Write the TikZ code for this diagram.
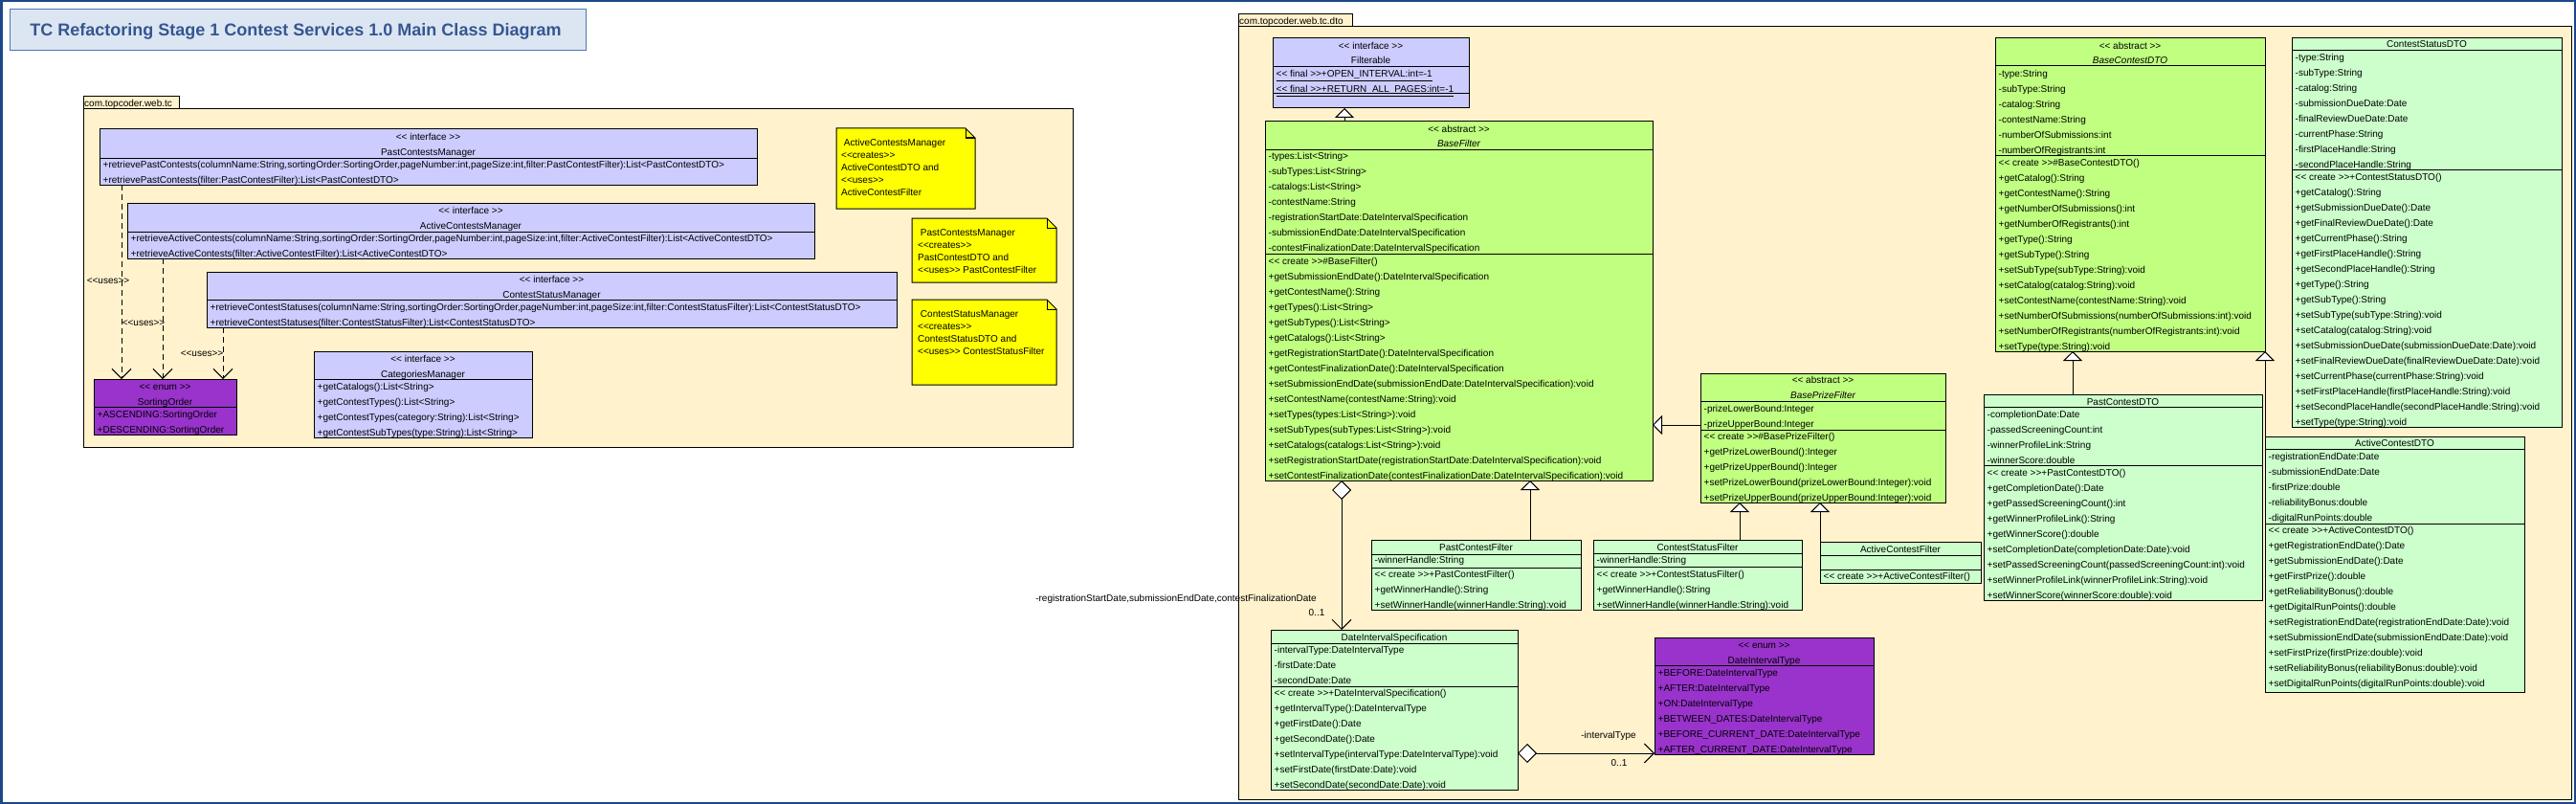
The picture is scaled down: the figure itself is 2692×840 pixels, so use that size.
\documentclass[tikz,border=0pt]{standalone}
\usepackage{fontspec}
\setmainfont{Liberation Sans}[Ligatures=TeXOff]
\usetikzlibrary{arrows.meta}
\definecolor{frameblue}{RGB}{28,72,138}
\definecolor{titlefill}{RGB}{220,230,242}
\definecolor{titleline}{RGB}{79,118,176}
\definecolor{titletext}{RGB}{54,86,145}
\definecolor{pkgfill}{RGB}{255,242,204}
\definecolor{ifcfill}{RGB}{204,204,255}
\definecolor{absfill}{RGB}{192,255,128}
\definecolor{clsfill}{RGB}{204,255,204}
\definecolor{enumfill}{RGB}{153,51,204}
\definecolor{notefill}{RGB}{255,255,0}
\tikzset{
 umlbox/.style={draw=black, line width=1pt, inner sep=0pt, outer sep=0pt, anchor=north west},
 rowtxt/.style={anchor=base west, inner sep=0pt, font=\fontsize{10}{12}\selectfont},
 hdrtxt/.style={anchor=base, inner sep=0pt, font=\fontsize{10}{12}\selectfont},
 divline/.style={line width=1pt},
 genarrow/.style={line width=1pt, -{Triangle[length=10pt,width=20pt,fill=white]}},
 deparrow/.style={line width=1pt, dash pattern=on 6pt off 4pt, -{Straight Barb[length=10pt,width=20pt]}},
 aggarrow/.style={line width=1pt, {Diamond[length=20pt,width=20pt,fill=white]}-{Straight Barb[length=10pt,width=20pt]}},
}
\newcommand\umlcls[6]{\node[umlbox, fill=#6, minimum width={#4-#2}, minimum height={#5-#3}] (#1) at (#2,#3) {};}
\newcommand\hdiv[3]{\draw[divline] (#1,#3) -- (#2,#3);}
\newcommand\rowsgen[5]{\foreach \rtext [count=\ri from 0] in {#5}{\node[rowtxt] (#1\ri) at (#2,{#3+3.5+#4*\ri}) {\rtext};}}
\newcommand\rowsat[4]{\rowsgen{#1}{#2}{#3}{16}{#4}}
\newcommand\hdr[4]{\node[hdrtxt] (#1) at ({#2},{#3+3.5}) {#4};}
\newcommand\umlnote[5]{%
 \node[anchor=north west, inner sep=0pt, outer sep=0pt, minimum width={#4-#2}, minimum height={#5-#3}] (#1) at (#2,#3) {};
 \draw[line width=1pt, fill=notefill] (#1.north west) -- ([xshift=-10pt]#1.north east) -- ([yshift=-10pt]#1.north east) -- (#1.south east) -- (#1.south west) -- cycle;
 \draw[line width=1pt] ([xshift=-10pt]#1.north east) -- ([xshift=-10pt,yshift=-10pt]#1.north east) -- ([yshift=-10pt]#1.north east);}
\begin{document}
\begin{tikzpicture}[x=1pt,y=-1pt]
\useasboundingbox (0,0) rectangle (2692,840);
\fill[white] (0,0) rectangle (2692,840);
\draw[frameblue, line width=2.5pt] (1.25,1.25) rectangle (2690.75,838.75);
% title
\node[umlbox, draw=titleline, fill=titlefill, minimum width=602, minimum height=43] (title) at (10,10) {};
\node[anchor=base, inner sep=0pt, font=\fontsize{18}{20}\selectfont\bfseries, text=titletext] (titletxt) at (309,37.5) {TC Refactoring Stage 1 Contest Services 1.0 Main Class Diagram};
% packages
\node[umlbox, fill=pkgfill, minimum width=100, minimum height=13] (pkgLtab) at (87,101) {};
\node[umlbox, fill=pkgfill, minimum width=1034, minimum height=353] (pkgL) at (87,114) {};
\node[rowtxt] (pkgLname) at (88,111.5) {com.topcoder.web.tc};
\node[umlbox, fill=pkgfill, minimum width=119, minimum height=13] (pkgRtab) at (1294,15) {};
\node[umlbox, fill=pkgfill, minimum width=1393, minimum height=807] (pkgR) at (1294,28) {};
\node[rowtxt] (pkgRname) at (1295,25.5) {com.topcoder.web.tc.dto};
% notes
\umlnote{n1}{874}{134}{1019}{218}
\rowsgen{n1t}{879}{149}{13}{\ ActiveContestsManager,<<creates>>,ActiveContestDTO and,<<uses>>,ActiveContestFilter}
\umlnote{n2}{953}{228}{1104}{295}
\rowsgen{n2t}{959}{243}{13}{\ PastContestsManager,<<creates>>,PastContestDTO and,<<uses>> PastContestFilter}
\umlnote{n3}{953}{313}{1104}{402}
\rowsgen{n3t}{959}{328}{13}{\ ContestStatusManager,<<creates>>,ContestStatusDTO and,<<uses>> ContestStatusFilter}
% PastContestsManager
\umlcls{pcm}{104}{135}{791}{193}{ifcfill}
\hdiv{104}{791}{165}
\hdr{pcms}{(104+791)/2}{143}{<< interface >>}
\hdr{pcmn}{(104+791)/2}{159}{PastContestsManager}
\rowsat{pcmr}{107.5}{172}{{+retrievePastContests(columnName:String,sortingOrder:SortingOrder,pageNumber:int,pageSize:int,filter:PastContestFilter):List<PastContestDTO>},+retrievePastContests(filter:PastContestFilter):List<PastContestDTO>}
% ActiveContestsManager
\umlcls{acm}{133}{212}{851}{270}{ifcfill}
\hdiv{133}{851}{242}
\hdr{acms}{(133+851)/2}{220}{<< interface >>}
\hdr{acmn}{(133+851)/2}{236}{ActiveContestsManager}
\rowsat{acmr}{136.5}{249}{{+retrieveActiveContests(columnName:String,sortingOrder:SortingOrder,pageNumber:int,pageSize:int,filter:ActiveContestFilter):List<ActiveContestDTO>},+retrieveActiveContests(filter:ActiveContestFilter):List<ActiveContestDTO>}
% ContestStatusManager
\umlcls{csm}{216}{284}{937}{342}{ifcfill}
\hdiv{216}{937}{313}
\hdr{csms}{(216+937)/2}{292}{<< interface >>}
\hdr{csmn}{(216+937)/2}{308}{ContestStatusManager}
\rowsat{csmr}{219.5}{321}{{+retrieveContestStatuses(columnName:String,sortingOrder:SortingOrder,pageNumber:int,pageSize:int,filter:ContestStatusFilter):List<ContestStatusDTO>},+retrieveContestStatuses(filter:ContestStatusFilter):List<ContestStatusDTO>}
% SortingOrder
\umlcls{so}{98}{396}{247}{454}{enumfill}
\hdiv{98}{247}{425}
\hdr{sos}{(98+247)/2}{404}{<< enum >>}
\hdr{son}{(98+247)/2}{420}{SortingOrder}
\rowsat{sor}{101.5}{433}{+ASCENDING:SortingOrder,+DESCENDING:SortingOrder}
% CategoriesManager
\umlcls{cm}{328}{367}{556}{457}{ifcfill}
\hdiv{328}{556}{396}
\hdr{cms}{(328+556)/2}{375}{<< interface >>}
\hdr{cmn}{(328+556)/2}{391}{CategoriesManager}
\rowsat{cmr}{331.5}{404}{+getCatalogs():List<String>,+getContestTypes():List<String>,+getContestTypes(category:String):List<String>,+getContestSubTypes(type:String):List<String>}
% Filterable
\umlcls{fil}{1330}{40}{1535}{113}{ifcfill}
\hdiv{1330}{1535}{70}
\hdiv{1330}{1535}{98}
\hdr{fils}{(1330+1535)/2}{48}{<< interface >>}
\hdr{filn}{(1330+1535)/2}{63}{Filterable}
\rowsat{filr}{1333.5}{77}{\underline{<< final >>+OPEN\_INTERVAL:int=-1},\underline{<< final >>+RETURN\_ALL\_PAGES:int=-1}}
% BaseFilter
\umlcls{bf}{1322}{127}{1727}{502}{absfill}
\hdiv{1322}{1727}{156}
\hdiv{1322}{1727}{265}
\hdr{bfs}{(1322+1727)/2}{135}{<< abstract >>}
\hdr{bfn}{(1322+1727)/2}{150}{\itshape BaseFilter}
\rowsat{bfa}{1325.5}{163}{-types:List<String>,-subTypes:List<String>,-catalogs:List<String>,-contestName:String,-registrationStartDate:DateIntervalSpecification,-submissionEndDate:DateIntervalSpecification,-contestFinalizationDate:DateIntervalSpecification}
\rowsat{bfm}{1325.5}{273}{<< create >>\#BaseFilter(),+getSubmissionEndDate():DateIntervalSpecification,+getContestName():String,+getTypes():List<String>,+getSubTypes():List<String>,+getCatalogs():List<String>,+getRegistrationStartDate():DateIntervalSpecification,+getContestFinalizationDate():DateIntervalSpecification,+setSubmissionEndDate(submissionEndDate:DateIntervalSpecification):void,+setContestName(contestName:String):void,+setTypes(types:List<String>):void,+setSubTypes(subTypes:List<String>):void,+setCatalogs(catalogs:List<String>):void,+setRegistrationStartDate(registrationStartDate:DateIntervalSpecification):void,+setContestFinalizationDate(contestFinalizationDate:DateIntervalSpecification):void}
% DateIntervalSpecification
\umlcls{dis}{1328}{658}{1586}{825}{clsfill}
\hdiv{1328}{1586}{672}
\hdiv{1328}{1586}{717}
\hdr{disn}{(1328+1586)/2}{666}{DateIntervalSpecification}
\rowsat{disa}{1331.5}{679}{-intervalType:DateIntervalType,-firstDate:Date,-secondDate:Date}
\rowsat{dism}{1331.5}{724}{<< create >>+DateIntervalSpecification(),+getIntervalType():DateIntervalType,+getFirstDate():Date,+getSecondDate():Date,+setIntervalType(intervalType:DateIntervalType):void,+setFirstDate(firstDate:Date):void,+setSecondDate(secondDate:Date):void}
% PastContestFilter
\umlcls{pcf}{1433}{564}{1652}{637}{clsfill}
\hdiv{1433}{1652}{579}
\hdiv{1433}{1652}{593}
\hdr{pcfn}{(1433+1652)/2}{572}{PastContestFilter}
\rowsat{pcfa}{1436.5}{585}{-winnerHandle:String}
\rowsat{pcfm}{1436.5}{600}{<< create >>+PastContestFilter(),+getWinnerHandle():String,+setWinnerHandle(winnerHandle:String):void}
% BasePrizeFilter
\umlcls{bpf}{1777}{390}{2033}{525}{absfill}
\hdiv{1777}{2033}{419}
\hdiv{1777}{2033}{449}
\hdr{bpfs}{(1777+2033)/2}{397}{<< abstract >>}
\hdr{bpfn}{(1777+2033)/2}{413}{\itshape BasePrizeFilter}
\rowsat{bpfa}{1780.5}{427}{-prizeLowerBound:Integer,-prizeUpperBound:Integer}
\rowsat{bpfm}{1780.5}{456}{<< create >>\#BasePrizeFilter(),+getPrizeLowerBound():Integer,+getPrizeUpperBound():Integer,+setPrizeLowerBound(prizeLowerBound:Integer):void,+setPrizeUpperBound(prizeUpperBound:Integer):void}
% ContestStatusFilter
\umlcls{csf}{1665}{564}{1883}{637}{clsfill}
\hdiv{1665}{1883}{578}
\hdiv{1665}{1883}{592}
\hdr{csfn}{(1665+1883)/2}{572}{ContestStatusFilter}
\rowsat{csfa}{1668.5}{585}{-winnerHandle:String}
\rowsat{csfm}{1668.5}{600}{<< create >>+ContestStatusFilter(),+getWinnerHandle():String,+setWinnerHandle(winnerHandle:String):void}
% ActiveContestFilter
\umlcls{acf}{1902}{566}{2070}{609}{clsfill}
\hdiv{1902}{2070}{580}
\hdiv{1902}{2070}{595}
\hdr{acfn}{(1902+2070)/2}{574}{ActiveContestFilter}
\rowsat{acfm}{1905.5}{602}{<< create >>+ActiveContestFilter()}
% BaseContestDTO
\umlcls{bcd}{2085}{40}{2367}{367}{absfill}
\hdiv{2085}{2367}{69}
\hdiv{2085}{2367}{162}
\hdr{bcds}{(2085+2367)/2}{48}{<< abstract >>}
\hdr{bcdn}{(2085+2367)/2}{63}{\itshape BaseContestDTO}
\rowsat{bcda}{2088.5}{77}{-type:String,-subType:String,-catalog:String,-contestName:String,-numberOfSubmissions:int,-numberOfRegistrants:int}
\rowsat{bcdm}{2088.5}{170}{<< create >>\#BaseContestDTO(),+getCatalog():String,+getContestName():String,+getNumberOfSubmissions():int,+getNumberOfRegistrants():int,+getType():String,+getSubType():String,+setSubType(subType:String):void,+setCatalog(catalog:String):void,+setContestName(contestName:String):void,+setNumberOfSubmissions(numberOfSubmissions:int):void,+setNumberOfRegistrants(numberOfRegistrants:int):void,+setType(type:String):void}
% PastContestDTO
\umlcls{pcd}{2073}{412}{2364}{627}{clsfill}
\hdiv{2073}{2364}{425}
\hdiv{2073}{2364}{486}
\hdr{pcdn}{(2073+2364)/2}{420}{PastContestDTO}
\rowsat{pcda}{2076.5}{433}{-completionDate:Date,-passedScreeningCount:int,-winnerProfileLink:String,-winnerScore:double}
\rowsat{pcdm}{2076.5}{494}{<< create >>+PastContestDTO(),+getCompletionDate():Date,+getPassedScreeningCount():int,+getWinnerProfileLink():String,+getWinnerScore():double,+setCompletionDate(completionDate:Date):void,+setPassedScreeningCount(passedScreeningCount:int):void,+setWinnerProfileLink(winnerProfileLink:String):void,+setWinnerScore(winnerScore:double):void}
% ContestStatusDTO
\umlcls{csd}{2395}{40}{2677}{446}{clsfill}
\hdiv{2395}{2677}{53}
\hdiv{2395}{2677}{177}
\hdr{csdn}{(2395+2677)/2}{46.5}{ContestStatusDTO}
\rowsat{csda}{2398.5}{60}{-type:String,-subType:String,-catalog:String,-submissionDueDate:Date,-finalReviewDueDate:Date,-currentPhase:String,-firstPlaceHandle:String,-secondPlaceHandle:String}
\rowsat{csdm}{2398.5}{185}{<< create >>+ContestStatusDTO(),+getCatalog():String,+getSubmissionDueDate():Date,+getFinalReviewDueDate():Date,+getCurrentPhase():String,+getFirstPlaceHandle():String,+getSecondPlaceHandle():String,+getType():String,+getSubType():String,+setSubType(subType:String):void,+setCatalog(catalog:String):void,+setSubmissionDueDate(submissionDueDate:Date):void,+setFinalReviewDueDate(finalReviewDueDate:Date):void,+setCurrentPhase(currentPhase:String):void,+setFirstPlaceHandle(firstPlaceHandle:String):void,+setSecondPlaceHandle(secondPlaceHandle:String):void,+setType(type:String):void}
% ActiveContestDTO
\umlcls{acd}{2367}{456}{2638}{723}{clsfill}
\hdiv{2367}{2638}{469}
\hdiv{2367}{2638}{547}
\hdr{acdn}{(2367+2638)/2}{463}{ActiveContestDTO}
\rowsat{acda}{2370.5}{477}{-registrationEndDate:Date,-submissionEndDate:Date,-firstPrize:double,-reliabilityBonus:double,-digitalRunPoints:double}
\rowsat{acdm}{2370.5}{554}{<< create >>+ActiveContestDTO(),+getRegistrationEndDate():Date,+getSubmissionEndDate():Date,+getFirstPrize():double,+getReliabilityBonus():double,+getDigitalRunPoints():double,+setRegistrationEndDate(registrationEndDate:Date):void,+setSubmissionEndDate(submissionEndDate:Date):void,+setFirstPrize(firstPrize:double):void,+setReliabilityBonus(reliabilityBonus:double):void,+setDigitalRunPoints(digitalRunPoints:double):void}
% DateIntervalType
\umlcls{dit}{1729}{666}{1958}{788}{enumfill}
\hdiv{1729}{1958}{695}
\hdr{dits}{(1729+1958)/2}{674}{<< enum >>}
\hdr{ditn}{(1729+1958)/2}{690}{DateIntervalType}
\rowsat{ditr}{1732.5}{703}{+BEFORE:DateIntervalType,+AFTER:DateIntervalType,+ON:DateIntervalType,+BETWEEN\_DATES:DateIntervalType,+BEFORE\_CURRENT\_DATE:DateIntervalType,+AFTER\_CURRENT\_DATE:DateIntervalType}
% connector coordinates
\coordinate (dx1) at (127,0);
\coordinate (dx2) at (170,0);
\coordinate (dx3) at (233,0);
\coordinate (gx1) at (1405,0);
\coordinate (gx2) at (1599,0);
\coordinate (gx3) at (1818,0);
\coordinate (gx4) at (1902,0);
\coordinate (gx5) at (2166,0);
\coordinate (gx6) at (2367,0);
\coordinate (gy1) at (0,444);
\coordinate (ax1) at (1402,0);
\coordinate (ay1) at (0,787);
% dependencies
\draw[deparrow] (pcm.south -| dx1) -- (so.north -| dx1);
\draw[deparrow] (acm.south -| dx2) -- (so.north -| dx2);
\draw[deparrow] (csm.south -| dx3) -- (so.north -| dx3);
\node[hdrtxt] (uses1) at (113,296.5) {<<uses>>};
\node[hdrtxt] (uses2) at (150,340.5) {<<uses>>};
\node[hdrtxt] (uses3) at (211,372.5) {<<uses>>};
% generalizations
\draw[genarrow] (bf.north -| gx1) -- (fil.south -| gx1);
\draw[genarrow] (pcf.north -| gx2) -- (bf.south -| gx2);
\draw[genarrow] (bpf.west |- gy1) -- (bf.east |- gy1);
\draw[genarrow] (csf.north -| gx3) -- (bpf.south -| gx3);
\draw[genarrow] (acf.north -| gx4) -- (bpf.south -| gx4);
\draw[genarrow] (pcd.north -| gx5) -- (bcd.south -| gx5);
\draw[genarrow] (acd.north -| gx6) -- (bcd.south -| gx6);
% associations
\draw[aggarrow] (bf.south -| ax1) -- (dis.north -| ax1);
\node[anchor=base east, inner sep=0pt, font=\fontsize{10}{12}\selectfont] (lblrs) at (1376,628.5) {-registrationStartDate,submissionEndDate,contestFinalizationDate};
\node[hdrtxt] (mult1) at (1376,643.5) {0..1};
\draw[aggarrow] (dis.east |- ay1) -- (dit.west |- ay1);
\node[hdrtxt] (lblit) at (1681,771.5) {-intervalType};
\node[hdrtxt] (mult2) at (1692,800.5) {0..1};
\end{tikzpicture}
\end{document}
